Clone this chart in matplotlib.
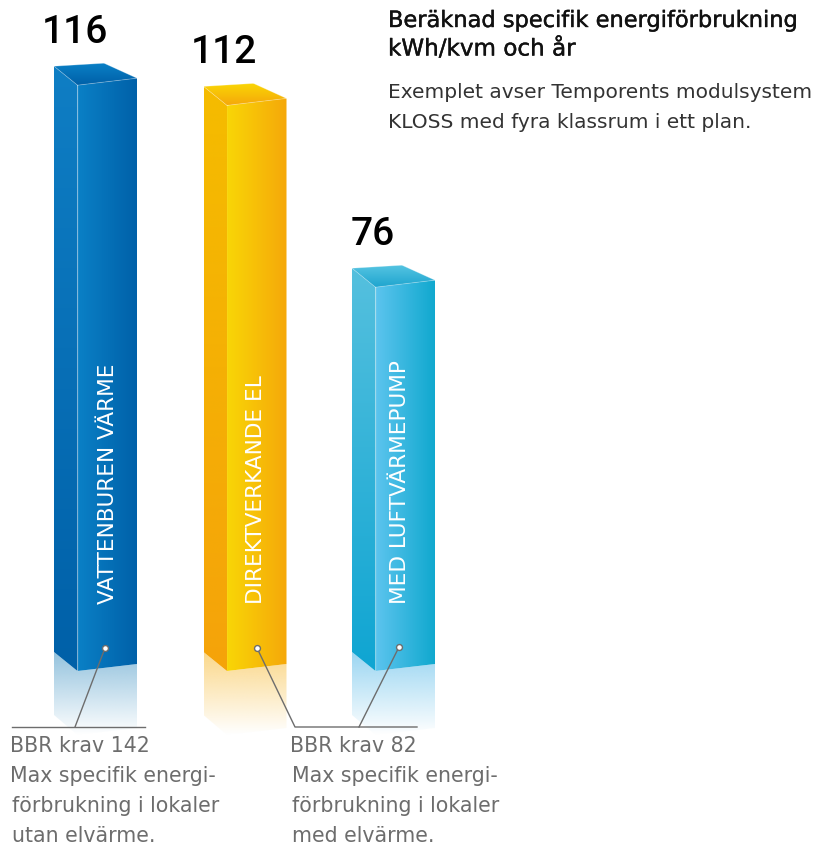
import numpy as np
import matplotlib
matplotlib.use("Agg")
import matplotlib.pyplot as plt
import matplotlib.patheffects as pe
from matplotlib.colors import to_rgb
from matplotlib.patches import Polygon

# energiforbrukning per system
etiketter = ["VATTENBUREN VÄRME", "DIREKTVERKANDE EL", "MED LUFTVÄRMEPUMP"]
varden = [116, 112, 76]

# farger: vanster sida topp/botten, framsida vanster/hoger, topp ljus/mork
farg_sida = [("#0f7ec4", "#0060a8"), ("#f5bc00", "#f5a30a"), ("#55c0de", "#0fa5d2")]
farg_fram = [("#0a80c6", "#0060a8"), ("#f9d606", "#f5a80a"), ("#5cc4ee", "#0fa8ce")]
farg_topp = [("#0060a8", "#0a80c6"), ("#f5a80a", "#fad705"), ("#1fa5cf", "#55c4e2")]
farg_spegel = ["#94c3de", "#fbd88a", "#9bd6f2"]

SKALA = 5.05    # pixlar per kWh
BOTTEN = 671    # framhornets underkant
FONT = "DejaVu Sans"
SIFFROR = "Roboto"

vanster = [54, 203.5, 352]
text_x = [108.5, 256.5, 400.5]


def gradient(ax, poly, c1, c2, riktning, alfa=(1, 1)):
    xs = [p[0] for p in poly]
    ys = [p[1] for p in poly]
    t = np.linspace(0, 1, 256)
    rgb = np.outer(1 - t, to_rgb(c1)) + np.outer(t, to_rgb(c2))
    a = alfa[0] + (alfa[1] - alfa[0]) * t
    bild = np.column_stack([rgb, a])
    if riktning == "x":
        bild = bild.reshape(1, 256, 4)
    else:
        bild = bild.reshape(256, 1, 4)
    im = ax.imshow(bild, extent=(min(xs), max(xs), max(ys), min(ys)),
                   aspect="auto", interpolation="bilinear", zorder=2)
    klipp = Polygon(poly, closed=True, transform=ax.transData)
    im.set_clip_path(klipp)


def stapel(ax, x0, varde, i):
    h = varde * SKALA
    fram = x0 + 23.5
    hoger = x0 + 83
    # bottenhorn
    bv, bf, bh = BOTTEN - 19, BOTTEN, BOTTEN - 7
    # spegling under stapeln
    gradient(ax, [(x0, bv), (fram, bf), (hoger, bh), (hoger, bh + 64),
                  (fram, bf + 64), (x0, bv + 63)],
             farg_spegel[i], farg_spegel[i], "y", alfa=(1, 0))
    # sidor
    gradient(ax, [(x0, bv - h), (fram, bf - h), (fram, bf), (x0, bv)],
             farg_sida[i][0], farg_sida[i][1], "y")
    gradient(ax, [(fram, bf - h), (hoger, bh - h), (hoger, bh), (fram, bf)],
             farg_fram[i][0], farg_fram[i][1], "x")
    # topp
    topp = [(x0, bv - h), (x0 + 50, bv - h - 3), (hoger, bh - h), (fram, bf - h)]
    gradient(ax, topp, farg_topp[i][1], farg_topp[i][0], "y")
    # ljusa kanter
    for a, b in [(topp[0], topp[3]), (topp[3], topp[2]), (topp[0], topp[1]), (topp[1], topp[2])]:
        ax.plot([a[0], b[0]], [a[1], b[1]], color="white", lw=0.6, alpha=0.3, zorder=3)
    ax.plot([fram, fram], [bf - h, bf], color="white", lw=0.5, alpha=0.08, zorder=3)
    # texter
    ax.text(text_x[i], 604, etiketter[i], rotation=90, ha="center", va="bottom",
            color="white", fontsize=15.6, family=FONT, zorder=4)
    ax.text(x0 + 20.5, bv - h - 23, str(varde), ha="center", va="baseline",
            color="black", fontsize=28, family=SIFFROR, weight="medium", zorder=4)


fig = plt.figure(figsize=(8.19, 8.47), dpi=100)
ax = fig.add_axes([0, 0, 1, 1])

for i in range(len(varden)):
    stapel(ax, vanster[i], varden[i], i)

# kravlinjer
GRA = "#6d6d6d"
ax.plot([12, 145], [727, 727], color=GRA, lw=1.0, zorder=5)
ax.plot([75, 105], [727, 648], color=GRA, lw=1.0, zorder=5)
ax.plot([417, 295, 257], [727, 727, 648], color=GRA, lw=1.0, zorder=5)
ax.plot([359, 399], [727, 647], color=GRA, lw=1.0, zorder=5)
ax.scatter([105, 257, 399], [648, 648, 647], s=18, facecolor="white",
           edgecolor=GRA, linewidth=1.0, zorder=6)

# rubrik och ingress
for y, rad, storlek in [(21, "Beräknad specifik energiförbrukning", 16.2), (49, "kWh/kvm och år", 16.6)]:
    t = ax.text(388, y, rad, fontsize=storlek, family=FONT, color="#111111", va="center")
    t.set_path_effects([pe.withStroke(linewidth=0.3, foreground="#111111")])
ax.text(388, 92, "Exemplet avser Temporents modulsystem", fontsize=14.5, family=FONT,
        color="#333333", va="center")
ax.text(388, 122, "KLOSS med fyra klassrum i ett plan.", fontsize=14.5, family=FONT,
        color="#333333", va="center")

# krav till vanster och hoger
text_vanster = ["BBR krav 142", "Max specifik energi-", "förbrukning i lokaler", "utan elvärme."]
text_hoger = ["BBR krav 82", "Max specifik energi-", "förbrukning i lokaler", "med elvärme."]
rader_y = [746, 776, 806, 836]
for j in range(4):
    ax.text(10 + (2 if j > 1 else 0), rader_y[j], text_vanster[j], fontsize=14.8, family=FONT,
            color=GRA, va="center")
    ax.text(290 + (2 if j > 0 else 0), rader_y[j], text_hoger[j], fontsize=14.8, family=FONT,
            color=GRA, va="center")

ax.set_xlim(0, 819)
ax.set_ylim(847, 0)
ax.axis("off")
fig.savefig("out.png", dpi=100)
